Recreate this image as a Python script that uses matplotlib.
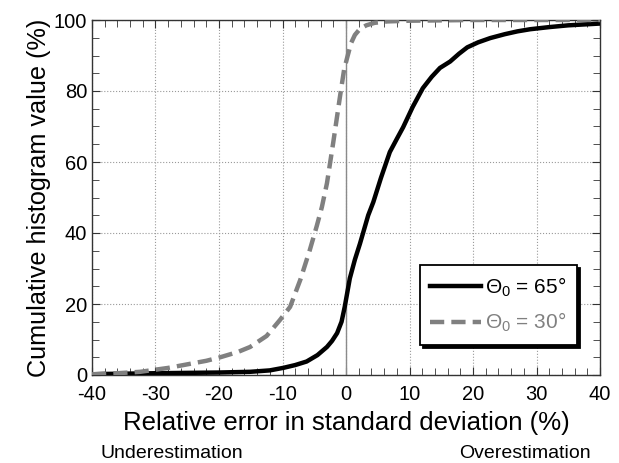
import matplotlib
matplotlib.use('Agg')
import matplotlib.pyplot as plt
from matplotlib.ticker import MultipleLocator

plt.rcParams['font.family'] = ['Liberation Sans', 'DejaVu Sans']
plt.rcParams['mathtext.fontset'] = 'custom'
plt.rcParams['mathtext.rm'] = 'Liberation Sans'
plt.rcParams['mathtext.it'] = 'Liberation Sans'
plt.rcParams['axes.unicode_minus'] = False

# theta0 = 65 deg
x65 = [-40, -38, -30, -20, -15.1, -12, -9.9, -8, -6.2, -4.5, -3, -2.2, -1.4, -0.7,
       -0.2, 0.6, 1.4, 2.2, 3.5, 4.3, 5.5, 6.9, 8, 9, 10.5, 12.1, 13.5, 14.8, 16.4,
       17.8, 19.1, 20.8, 22.7, 25, 27, 29, 32, 35, 38, 40]
y65 = [0.2, 0.3, 0.5, 0.7, 0.9, 1.3, 2.0, 2.8, 3.8, 5.6, 7.9, 9.6, 11.8, 15.0,
       19.2, 27.2, 32.5, 37.0, 45.0, 48.7, 55.5, 62.8, 66.5, 69.8, 75.5, 80.8, 84.0,
       86.5, 88.3, 90.5, 92.3, 93.7, 94.9, 96.0, 96.8, 97.4, 98.0, 98.5, 98.8, 99.0]
# theta0 = 30 deg
x30 = [-40, -36, -32.4, -28, -25, -22, -19.8, -17, -15.1, -12.5, -10.4, -8.8, -7.2,
       -5.7, -4.6, -3.8, -3, -2, -0.9, -0.3, 0.2, 0.8, 1.4, 2.2, 3.2, 4.5, 6.5, 10,
       20, 30, 40]
y30 = [0.2, 0.5, 0.9, 2.0, 3.0, 4.0, 5.0, 6.5, 7.9, 11.0, 15.5, 19.2, 26.8, 35.2,
       42.0, 47.3, 54.0, 65.6, 79.0, 86.0, 89.5, 93.5, 95.8, 97.5, 98.5, 99.2, 99.6,
       99.8, 100, 100, 100]

fig = plt.figure(figsize=(6.19, 4.63), dpi=100)
ax = fig.add_axes([92/619, 88/463, 508/619, 355/463])

ax.grid(True, which='major', color='#9a9a9a', linestyle=':', linewidth=0.8)
ax.axvline(0, color='#8a8a8a', linewidth=1.0)
ax.plot(x65, y65, color='black', linewidth=3.2, label=r'$\Theta_0$ = 65°', zorder=3)
ax.plot(x30, y30, color='#808080', linewidth=3.2, linestyle=(0, (3.2, 1.6)),
        label=r'$\Theta_0$ = 30°', zorder=3)

ax.set_xlim(-40, 40)
ax.set_ylim(0, 100)
ax.xaxis.set_major_locator(MultipleLocator(10))
ax.xaxis.set_minor_locator(MultipleLocator(2))
ax.yaxis.set_major_locator(MultipleLocator(20))
ax.yaxis.set_minor_locator(MultipleLocator(5))
ax.tick_params(which='both', direction='in', top=True, right=True, labelsize=14.5,
               color='#333333')
ax.tick_params(which='major', length=6)
ax.tick_params(which='minor', length=5)
ax.tick_params(axis='x', pad=7)
for s in ax.spines.values():
    s.set_color('#333333')
    s.set_linewidth(1.0)

ax.set_xlabel('Relative error in standard deviation (%)', fontsize=18.5, labelpad=5)
ax.set_ylabel('Cumulative histogram value (%)', fontsize=18.2, labelpad=2)

fig.text(172/619, 1 - 453/463, 'Underestimation', fontsize=14, ha='center', va='center')
fig.text(525/619, 1 - 453/463, 'Overestimation', fontsize=14, ha='center', va='center')

leg = ax.legend(loc='lower right', bbox_to_anchor=(0.955, 0.085), borderaxespad=0,
                fontsize=15, fancybox=False, framealpha=1, edgecolor='black',
                shadow={'color': 'black', 'alpha': 1}, handlelength=2.45,
                handletextpad=0.2, labelspacing=0.6, borderpad=0.5)
leg.get_frame().set_linewidth(1.3)
leg.get_texts()[1].set_color('#808080')

fig.savefig('out.png', dpi=100)
